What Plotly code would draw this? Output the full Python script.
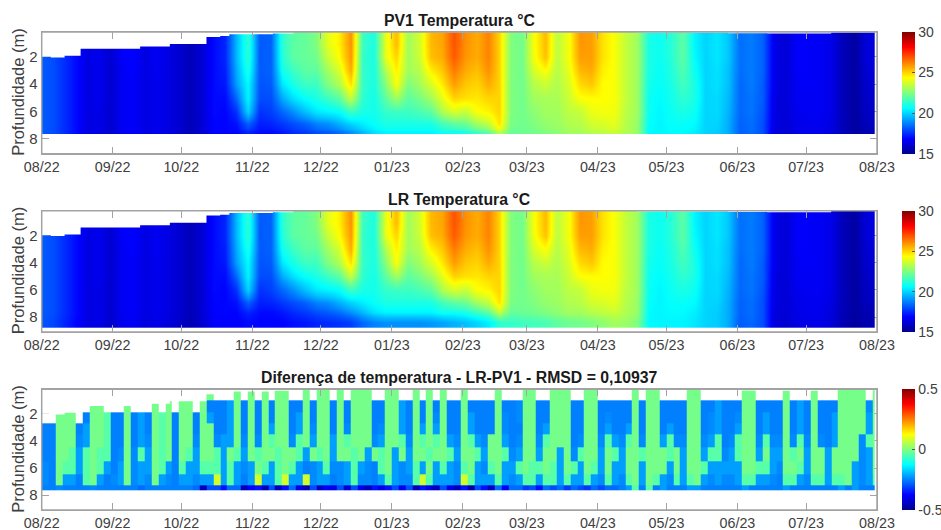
import pandas as pd
import plotly.graph_objects as go

N = None
month_ticks = ["2022-08-01","2022-09-01","2022-10-01","2022-11-01","2022-12-01","2023-01-01","2023-02-01",
               "2023-03-01","2023-04-01","2023-05-01","2023-06-01","2023-07-01","2023-08-01"]
titles = ["PV1 Temperatura °C", "LR Temperatura °C", "Diferença de temperatura - LR-PV1 - RMSD = 0,10937"]

surface_dates = ["2022-08-01","2022-08-05","2022-08-11","2022-08-18","2022-09-13","2022-09-26","2022-10-12",
                 "2022-10-18","2022-10-22","2022-11-10","2022-11-19","2023-04-18","2023-05-28","2023-06-14",
                 "2023-07-12","2023-08-01"]
surface_depth = [2.0,2.05,1.93,1.42,1.25,1.07,0.55,0.48,0.36,0.30,0.2,0.24,0.28,0.3,0.22,0.2]

# edges of the depth bins
pv1_depth_edges = [0.19,0.6,1.5,2.5,3.5,4.5,5.5,6.5,7.3,7.63]
lr_depth_edges = [0.19,0.6,1.5,2.5,3.5,4.5,5.5,6.5,7.3,8.0,8.8]
diff_depth_edges = [0.19,1.0,1.9,2.7,3.5,4.5,5.5,6.5,7.25,7.63]

# temperature profile every 5 days (top to bottom)
pv1_profiles = [
[18.2,18.2,18.2,18.2,18.2,18.2,18.2,18.2,18.2],[18.0,18.0,18.0,18.0,18.0,18.0,18.0,18.0,18.0],
[17.5,17.5,17.5,17.5,17.5,17.5,17.5,17.5,17.5],[17.0,17.0,17.0,17.0,17.0,17.0,17.0,17.0,17.0],
[16.4,16.4,16.4,16.4,16.4,16.4,16.4,16.4,16.4],[16.6,16.6,16.6,16.6,16.6,16.6,16.5,16.5,16.5],
[16.1,16.1,16.1,16.1,16.1,16.1,16.1,16.1,16.1],[16.8,16.8,16.8,16.7,16.7,16.7,16.7,16.7,16.7],
[16.9,16.9,16.9,16.9,16.8,16.8,16.8,16.8,16.8],[16.4,16.4,16.4,16.4,16.4,16.4,16.4,16.4,16.4],
[16.7,16.7,16.7,16.7,16.6,16.6,16.6,16.6,16.6],[16.4,16.4,16.4,16.4,16.4,16.4,16.4,16.4,16.4],
[16.1,16.1,16.1,16.1,16.1,16.1,16.1,16.1,16.1],[15.7,15.7,15.7,15.7,15.7,15.7,15.7,15.7,15.7],
[16.2,16.2,16.2,16.2,16.2,16.2,16.2,16.2,16.2],[17.0,17.0,17.0,17.0,17.0,17.0,17.0,16.9,16.9],
[17.4,17.4,17.4,17.3,17.2,17.0,16.9,16.9,16.9],[19.6,19.6,19.6,19.4,19.2,18.4,17.6,17.1,16.9],
[21.3,21.3,21.3,21.0,20.6,20.5,20.0,18.3,17.4],[18.2,18.2,18.2,18.2,18.1,18.0,17.6,17.3,17.0],
[18.3,18.3,18.3,18.3,18.2,18.0,17.8,17.4,17.0],[21.3,21.3,21.2,20.9,20.3,19.4,18.4,17.7,17.2],
[22.0,22.0,22.0,21.5,21.0,20.2,19.0,18.0,17.5],[22.1,22.1,22.1,22.0,21.5,20.7,19.7,18.3,17.7],
[22.5,22.5,22.3,22.0,21.5,21.0,20.3,18.8,18.0],[24.0,24.0,23.6,23.0,22.5,21.5,20.5,19.0,18.2],
[24.6,24.6,24.4,23.8,23.2,22.0,20.7,19.5,18.5],[26.0,26.0,25.9,25.6,24.8,23.5,21.5,20.0,19.0],
[21.5,21.5,21.4,21.4,21.4,21.3,21.0,20.4,19.6],[21.0,21.0,21.0,21.0,21.0,20.9,20.9,20.7,20.2],
[24.0,24.0,24.0,23.2,22.6,22.0,21.4,21.0,20.5],[25.4,25.4,25.0,24.6,24.3,23.0,21.5,21.0,20.5],
[23.0,23.0,23.0,23.0,22.5,22.0,21.5,21.0,20.5],[23.7,23.7,23.6,23.3,23.0,22.4,21.7,21.0,20.5],
[25.4,25.4,25.3,24.6,23.8,23.0,22.0,21.0,20.5],[25.7,25.7,25.6,25.2,24.7,24.0,23.2,21.6,20.8],
[26.9,26.9,26.8,26.3,25.8,25.0,23.8,22.0,20.8],[26.0,26.0,25.9,25.6,25.2,24.8,23.5,22.2,21.0],
[25.6,25.6,25.6,25.3,25.0,24.7,24.3,23.0,21.5],[26.2,26.2,26.2,26.0,25.6,25.0,24.5,23.5,22.0],
[25.0,25.0,25.0,25.0,25.0,25.0,25.0,24.8,23.5],[22.5,22.5,22.5,22.5,22.5,22.5,22.5,22.4,22.1],
[22.3,22.3,22.3,22.3,22.3,22.3,22.3,22.3,22.2],[24.3,24.3,24.2,23.8,23.3,23.0,22.7,22.5,22.3],
[25.4,25.4,25.3,24.4,23.6,23.1,23.0,22.8,22.5],[23.4,23.4,23.4,23.3,23.2,23.1,23.0,22.9,22.7],
[24.2,24.2,24.2,24.0,23.8,23.6,23.4,23.2,23.0],[25.9,25.9,25.8,25.4,24.9,24.3,23.5,23.3,23.0],
[25.8,25.8,25.8,25.6,25.2,24.4,24.1,23.7,23.3],[24.8,24.8,24.8,24.6,24.4,24.4,24.2,23.8,23.4],
[24.3,24.3,24.3,24.3,24.3,24.3,24.2,24.0,23.6],[23.5,23.5,23.5,23.5,23.5,23.5,23.4,23.3,23.2],
[23.0,23.0,23.0,23.0,23.0,23.0,23.0,22.9,22.9],[21.0,21.0,21.0,21.0,20.9,20.8,20.8,20.7,20.6],
[20.8,20.8,20.8,20.7,20.7,20.6,20.5,20.5,20.5],[21.2,21.2,21.2,21.1,21.0,20.9,20.8,20.7,20.6],
[22.0,22.0,22.0,21.8,21.6,21.3,21.0,20.7,20.6],[20.5,20.5,20.6,20.8,21.0,21.0,20.8,20.6,20.4],
[20.0,20.0,20.0,20.0,20.0,20.0,20.0,20.0,20.0],[20.3,20.3,20.3,20.2,20.2,20.1,20.1,20.0,19.9],
[19.8,19.8,19.8,19.7,19.7,19.6,19.5,19.4,19.4],[18.5,18.5,18.5,18.5,18.4,18.4,18.4,18.3,18.3],
[18.7,18.7,18.7,18.7,18.7,18.6,18.6,18.5,18.5],[18.3,18.3,18.3,18.3,18.2,18.2,18.1,18.0,18.0],
[16.5,16.5,16.5,16.5,16.5,16.4,16.4,16.4,16.3],[16.2,16.2,16.2,16.2,16.2,16.2,16.2,16.2,16.2],
[16.8,16.8,16.8,16.8,16.7,16.7,16.6,16.5,16.5],[16.8,16.8,16.8,16.8,16.8,16.7,16.7,16.6,16.6],
[16.7,16.7,16.7,16.7,16.7,16.7,16.7,16.6,16.6],[16.5,16.5,16.5,16.5,16.5,16.5,16.5,16.4,16.3],
[15.7,15.7,15.7,15.7,15.7,15.7,15.7,15.7,15.7],[15.3,15.3,15.3,15.3,15.3,15.3,15.3,15.3,15.3],
[16.3,16.3,16.3,16.2,16.1,16.0,15.9,15.8,15.6],
]
lr_bottom = [18.1,17.9,17.4,16.9,16.4,16.5,16.0,16.6,16.7,16.3,16.5,16.3,16.0,15.6,16.1,16.8,16.8,16.8,
             17.0,16.9,16.9,16.9,17.1,17.2,17.4,17.5,17.6,17.8,18.4,18.8,19.0,19.0,19.0,19.0,19.1,19.3,
             19.5,19.7,20.0,20.4,21.3,21.4,21.5,21.6,21.7,22.0,22.2,22.3,22.5,22.7,23.0,22.9,22.5,20.6,
             20.5,20.5,20.5,20.3,20.0,19.9,19.4,18.2,18.4,18.0,16.3,16.1,16.4,16.5,16.5,16.2,15.6,15.3,15.6]
pv1_z = [list(row) for row in zip(*pv1_profiles)]
lr_z = pv1_z + [lr_bottom]

# temperature difference x 100, one list per depth bin, a column every 3 days
diff_0_1 = [N,N,N,N,N,N,N,-1,-1,N,N,N,-1,N,N,N,-1,N,-1,N,
            -1,-1,N,-1,-1,N,N,N,-1,N,-1,N,-1,N,-1,-1,N,N,-1,N,
            -1,-1,N,-1,N,-1,-1,-1,N,N,-1,-1,N,N,-1,N,-1,N,-1,N,
            N,-1,N,N,N,N,-1,N,N,N,-1,-1,N,N,-1,-1,-1,N,N,-1,
            -1,N,N,N,N,N,-1,N,-1,-1,N,N,N,N,-1,-1,N,N,N,N,
            N,N,-1,-1,N,N,N,N,-1,N,N,N,-1,N,N,N,-1,-1,-1,-1,N,-1]
diff_1_19 = [N,N,N,-1,-1,N,N,-1,-1,N,N,N,-1,N,N,N,-1,N,-1,N,
             -1,-1,N,-1,-25,-25,-25,-22,-1,-25,-1,-25,-1,-25,-1,-1,-25,-25,-1,-25,
             -1,-1,-25,-1,-25,-1,-1,-1,-25,-25,-1,-1,-22,-25,-1,-25,-1,-25,-1,-25,
             -25,-1,-25,-25,-25,-25,-1,-25,-25,-24,-1,-1,-25,-25,-1,-1,-1,-25,-25,-1,
             -1,-25,-25,-25,-25,-25,-1,-25,-1,-1,-25,-25,-25,-25,-1,-1,-25,-25,-22,-25,
             -25,-25,-1,-1,-25,-25,-25,-25,-1,-25,-22,-25,-1,-25,-25,-25,-1,-1,-1,-1,-24,-1]
diff_19_27 = [N,N,-1,-1,-1,N,-25,-1,-1,-4,-25,-25,-1,-25,-22,-25,-1,-4,-1,-25,
              -1,-1,-25,-1,-22,-25,-25,-22,-1,-25,-1,-25,-1,-25,-1,-1,-25,-22,-1,-25,
              -1,-1,-25,-1,-25,-1,-1,-1,-25,-25,-1,-1,-22,-25,-1,-25,-1,-24,-1,-25,
              -25,-1,-22,-25,-25,-25,-1,-24,-25,-24,-1,-1,-25,-25,-1,-1,-1,-25,-25,-1,
              -1,-25,-24,-25,-25,-25,-1,-25,-1,-1,-25,-25,-25,-25,-1,-1,-25,-24,-22,-25,
              -25,-24,-1,-1,-25,-22,-25,-25,-1,-25,-22,-25,-1,-25,-25,-22,-1,-1,-1,-1,-22,-1]
diff_27_35 = [-25,-25,-1,-1,-1,-25,-22,-1,-1,-4,-25,-25,-1,-25,-22,-25,-1,-4,-1,-25,
              -1,-1,-25,-1,-1,-25,-25,-22,-1,-25,-1,-25,-1,-22,-1,-1,-25,-22,-1,-24,
              -1,-1,-25,-1,-24,-1,-1,-1,-25,-24,-1,-1,-22,-25,-1,-22,-1,-22,-1,-25,
              -25,-1,-22,-25,-25,-25,-1,-24,-25,-25,-1,-1,-25,-22,-1,-1,-1,-25,-25,-1,
              -1,-25,-22,-25,-25,-22,-1,-25,-1,-1,-25,-22,-25,-25,-1,-1,-25,-24,-22,-25,
              -25,-22,-1,-1,-25,-22,-25,-25,-1,-25,-22,-25,-1,-25,-25,-22,-1,-1,-1,-1,-22,-1]
diff_35_45 = [-25,-25,-1,-1,-1,-24,-22,-1,-1,-4,-25,-25,-1,-25,-22,-24,-1,-4,-1,-25,
              -1,-1,-24,-1,-1,-24,-22,-22,-1,-24,-1,-24,-1,-4,-1,-1,-24,-4,-1,-22,
              -1,-1,-22,-1,-4,-1,-1,-1,-24,-22,-1,-1,-4,-24,-1,-4,-1,-4,-1,-22,
              -24,-1,-4,-22,-24,-1,-1,-22,-25,-24,-1,-1,-24,-4,-1,-1,-1,-25,-24,-1,
              -1,-24,-4,-22,-24,-4,-1,-24,-1,-1,-22,-4,-24,-24,-1,-1,-24,-22,-4,-25,
              -24,-4,-1,-1,-24,-4,-24,-24,-1,-24,-4,-24,-1,-24,-25,-22,-1,-1,-1,-24,-4,-1]
diff_45_55 = [-25,-25,-1,-1,-4,-22,-4,-1,-4,-4,-25,-24,-1,-24,-4,-22,-1,-4,-1,-25,
              -1,-4,-22,-1,-1,-4,-22,-1,-4,-22,-1,-4,-1,-1,-4,-1,-1,-4,-22,-1,
              -4,-1,-22,-1,-1,-4,-1,-22,-1,-4,-1,-22,-1,-22,-1,-1,-4,-1,-1,-4,
              -22,-1,-1,-4,-22,-1,-1,-4,-24,-22,-1,-1,-22,-1,-1,-22,-1,-24,-4,-1,
              -1,-22,-1,-4,-22,-1,-1,-4,-1,-1,-1,-4,-1,-22,-1,-1,-22,-4,-4,-24,
              -22,-4,-1,-1,-22,-1,-22,-22,-1,-4,-1,-22,-1,-1,-22,-1,-1,-1,-1,-24,-22,-1]
diff_55_65 = [-24,-25,-1,-4,-4,-22,-4,-1,-4,-22,-25,-22,-1,-24,-22,-22,-1,-4,-22,-25,
              -4,-22,-22,-4,-4,-4,-22,-4,-22,-24,-22,-1,-4,-22,-4,-1,-4,-22,-25,-24,
              -22,-4,-24,-24,-22,-4,-22,-24,-25,-4,-1,-22,-24,-22,-4,-22,-1,-22,-4,-22,
              -24,-4,-1,-22,-24,-4,-1,-22,-22,-4,-1,-4,-4,-1,-4,-22,-1,-4,-22,-1,
              -4,-22,-1,-22,-22,-1,-1,-22,-1,-1,-1,-22,-1,-22,-1,-1,-4,-22,-22,-22,
              -22,-22,-1,-1,-4,-4,-22,-24,-1,-1,-4,-22,-1,-1,-22,-1,-1,-1,-22,-24,-22,-1]
diff_65_72 = [-24,-25,-1,-22,-22,-25,-4,-1,-22,-25,-24,-22,-1,-24,-22,-24,-1,-22,-24,-25,
              -22,-22,-24,-22,-22,8,-22,-4,-22,-25,-22,8,-22,-22,-4,8,-22,-22,8,-24,
              -22,-22,-25,-24,-22,-4,-24,-24,-25,-22,-4,-22,-24,-24,-4,8,-4,-22,-22,-22,
              -24,8,-4,-22,-22,-22,-4,-22,-24,-22,-4,-4,-22,-4,-4,-22,-4,-22,-22,-4,
              -22,-24,-4,-22,-24,-4,-1,-22,-1,-4,-22,-24,-4,-22,-4,-1,-22,-24,-22,-24,
              -24,-22,-4,-4,-22,-22,-24,-25,-4,-4,-22,-24,-4,-4,-22,-4,-4,-1,-22,-24,-22,-4]
diff_72_76 = [-25,-25,-24,-25,-25,-25,-25,-24,-25,-25,-25,-25,-25,-25,-27,-25,-25,-25,-25,-25,
              -25,-25,-27,-45,-30,-30,-36,-27,-27,-45,-38,-36,-45,-30,-45,-36,-27,-40,-45,-30,
              -45,-38,-40,-30,-42,-30,-40,-45,-36,-40,-36,-30,-40,-30,-45,-36,-40,-45,-30,-40,
              -45,-36,-47,-30,-36,-45,-27,-38,-27,-27,-32,-30,-36,-27,-30,-27,-32,-27,-30,-32,
              -27,-30,-27,-27,-25,-22,-4,-25,-4,-25,-22,-25,-25,-25,-22,-22,-25,-25,-25,-25,
              -25,-25,-22,-25,-25,-25,-25,-25,-22,-25,-25,-25,-25,-25,-25,-25,-22,-25,-22,-25,-25,-25]
diff_rows = [diff_0_1,diff_1_19,diff_19_27,diff_27_35,diff_35_45,diff_45_55,diff_55_65,diff_65_72,diff_72_76]
diff_z = [[None if v is None else v/100 for v in r] for r in diff_rows]

temp_days = list(pd.date_range("2022-07-29 12:00", periods=74, freq="5D"))
temp_days[-1] = pd.Timestamp("2023-07-31")
diff_days = list(pd.date_range("2022-08-01", periods=123, freq="3D"))
diff_days[-1] = pd.Timestamp("2023-07-31")

JET = [[0,"#00008f"],[0.125,"#0000ff"],[0.375,"#00ffff"],[0.625,"#ffff00"],[0.875,"#ff0000"],[1,"#800000"]]
W, H = 941, 530
AX = "#a3a3a3"
TXT = "#404040"
FONT = "Liberation Sans"
panels = [(32,153.7),(210.7,332),(389.3,510)]
title_y = [20.5,199,377]
L, R = 41.7, 877

fig = go.Figure()
datasets = [(temp_days,pv1_depth_edges,pv1_z,15,30,[15,20,25,30],["15","20","25","30"],"best"),
            (temp_days,lr_depth_edges,lr_z,15,30,[15,20,25,30],["15","20","25","30"],"best"),
            (diff_days,diff_depth_edges,diff_z,-0.5,0.5,[-0.5,0,0.5],["-0.5","0","0.5"],False)]
layout = dict(width=W,height=H,margin=dict(l=0,r=0,t=0,b=0,autoexpand=False),paper_bgcolor="white",plot_bgcolor="white",
              font=dict(family=FONT,color=TXT,size=14),showlegend=False,shapes=[],annotations=[])
for n,(x,y,z,lo,hi,tv,tt,sm) in enumerate(datasets):
    top,bot = panels[n]
    sfx = "" if n==0 else str(n+1)
    fig.add_trace(go.Heatmap(x=x,y=y,z=z,zmin=lo,zmax=hi,colorscale=JET,zsmooth=sm,hoverongaps=False,
        xaxis="x"+sfx,yaxis="y"+sfx,
        colorbar=dict(x=902/W,xanchor="left",thickness=12.7,thicknessmode="pixels",
                      lenmode="fraction",len=(bot-top)/H,y=1-bot/H,yanchor="bottom",ypad=0,xpad=0,
                      outlinewidth=0,tickmode="array",tickvals=tv,ticktext=tt,ticks="inside",ticklen=3,
                      tickcolor="#555555",tickfont=dict(size=14,color=TXT,family=FONT))))
    fig.add_trace(go.Scatter(x=[surface_dates[0],surface_dates[-1]],y=[0.19,0.19],mode="lines",
        line=dict(width=0),hoverinfo="skip",xaxis="x"+sfx,yaxis="y"+sfx))
    fig.add_trace(go.Scatter(x=surface_dates,y=surface_depth,mode="lines",line=dict(width=0,shape="hv"),
        fill="tonexty",fillcolor="white",hoverinfo="skip",xaxis="x"+sfx,yaxis="y"+sfx))
    layout["xaxis"+sfx] = dict(domain=[L/W,R/W],anchor="y"+sfx,type="date",range=[month_ticks[0],month_ticks[-1]],
        tickmode="array",tickvals=month_ticks,ticktext=[pd.Timestamp(t).strftime("%m/%y") for t in month_ticks],
        ticks="inside",ticklen=7,tickcolor=AX,tickwidth=1,showline=True,linecolor=AX,mirror="ticks",
        showgrid=False,zeroline=False,tickfont=dict(size=14.3,color=TXT,family=FONT),layer="above traces",tickangle=0)
    layout["yaxis"+sfx] = dict(domain=[1-bot/H,1-top/H],anchor="x"+sfx,range=[9.1,0.19],tickmode="array",
        tickvals=[2,4,6,8],ticktext=["2","4","6","8"],ticks="inside",ticklen=7,tickcolor=AX,tickwidth=1,
        showline=True,linecolor=AX,mirror="ticks",showgrid=False,zeroline=False,
        tickfont=dict(size=15,color=TXT,family=FONT),layer="below traces")
    layout["shapes"].append(dict(type="rect",xref="x"+sfx+" domain",yref="y"+sfx+" domain",x0=0,x1=1,y0=0,y1=1,
        line=dict(color=AX,width=1.5),fillcolor="rgba(0,0,0,0)",layer="above"))
    layout["annotations"].append(dict(text="<b>"+titles[n]+"</b>",xref="paper",yref="paper",x=459/W,y=1-title_y[n]/H,
        xanchor="center",yanchor="middle",showarrow=False,font=dict(size=15.8,color="#1a1a1a",family=FONT)))
    layout["annotations"].append(dict(text="Profundidade (m)",xref="paper",yref="paper",x=18/W,y=1-(top+bot)/2/H,
        xanchor="center",yanchor="middle",textangle=-90,showarrow=False,font=dict(size=16.5,color=TXT,family=FONT)))
fig.update_layout(**layout)
fig.write_html("out.html",config=dict(displayModeBar=False),post_script="document.body.style.margin='0';")
